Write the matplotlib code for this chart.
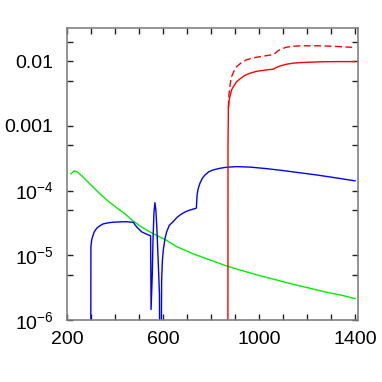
import matplotlib
matplotlib.use('Agg')
import matplotlib.pyplot as plt
import matplotlib.ticker as mtick

plt.rcParams['font.family'] = ['Liberation Sans', 'DejaVu Sans']
plt.rcParams['mathtext.fontset'] = 'custom'
plt.rcParams['mathtext.rm'] = 'Liberation Sans'
plt.rcParams['mathtext.it'] = 'Liberation Sans:italic'

# green curve
green_x = [214.6, 228, 242.6, 263.4, 298, 332.7, 367.8, 402.4, 437, 472, 506.8, 541.4, 576.5,
           611, 656, 725, 795, 864.5, 934, 1003, 1073, 1142, 1212, 1282, 1351, 1400]
green_y = [1.81e-4, 2.01e-4, 1.92e-4, 1.64e-4, 1.22e-4, 9.1e-5, 6.98e-5, 5.52e-5, 4.46e-5,
           3.43e-5, 2.77e-5, 2.32e-5, 1.99e-5, 1.72e-5, 1.36e-5, 1.05e-5, 8.45e-6, 6.83e-6,
           5.72e-6, 4.84e-6, 4.15e-6, 3.56e-6, 3.09e-6, 2.68e-6, 2.38e-6, 2.14e-6]

# blue curve
blue_x = [296.8, 298, 301, 305, 312, 322, 335, 349, 370, 391, 420, 447, 476, 482, 495, 510,
          530, 547, 549, 554, 557, 561, 565, 569, 573.5, 579, 584, 588, 593, 596, 600, 607,
          614, 625, 641, 656, 670, 690, 711, 736, 738, 741, 745, 753, 763, 774, 790, 808,
          835, 864, 906, 962, 1030, 1101, 1170, 1240, 1320, 1400]
blue_y = [1e-9, 1.36e-5, 1.7e-5, 1.94e-5, 2.3e-5, 2.61e-5, 2.85e-5, 3.05e-5, 3.17e-5, 3.24e-5,
          3.28e-5, 3.3e-5, 3.22e-5, 2.94e-5, 2.6e-5, 2.3e-5, 2.12e-5, 2.0e-5, 1.45e-6, 5e-6,
          1.7e-5, 4.5e-5, 6.5e-5, 5.0e-5, 2.5e-5, 7.6e-6, 2.5e-6, 1e-9, 4e-6, 8e-6, 1.2e-5,
          1.8e-5, 2.3e-5, 2.9e-5, 3.3e-5, 3.8e-5, 4.2e-5, 4.65e-5, 5.0e-5, 5.3e-5, 5.4e-5,
          8.5e-5, 1.05e-4, 1.3e-4, 1.55e-4, 1.74e-4, 1.95e-4, 2.08e-4, 2.2e-4, 2.29e-4,
          2.34e-4, 2.3e-4, 2.18e-4, 2.03e-4, 1.88e-4, 1.74e-4, 1.57e-4, 1.41e-4]

# red solid curve
red_x = [869, 870, 871.5, 875, 878, 885, 892, 906, 920, 940, 962, 990, 1031, 1059, 1070,
         1087, 1115, 1143, 1180, 1212, 1260, 1309, 1397]
red_y = [1e-9, 5e-4, 1.9e-3, 2.5e-3, 2.8e-3, 3.6e-3, 4.0e-3, 4.8e-3, 5.3e-3, 6.0e-3, 6.5e-3,
         6.95e-3, 7.3e-3, 7.5e-3, 7.9e-3, 8.4e-3, 8.95e-3, 9.3e-3, 9.5e-3, 9.6e-3, 9.75e-3,
         9.8e-3, 9.8e-3]

# red dashed curve
red2_x = [871.5, 874, 876, 880, 885, 895, 906, 925, 948, 975, 1004, 1030, 1059, 1068, 1080,
          1095, 1115, 1140, 1171, 1250, 1310, 1387]
red2_y = [1.9e-3, 3.0e-3, 3.6e-3, 4.6e-3, 5.75e-3, 7.0e-3, 8.2e-3, 9.4e-3, 1.05e-2, 1.12e-2,
          1.17e-2, 1.21e-2, 1.26e-2, 1.33e-2, 1.45e-2, 1.55e-2, 1.64e-2, 1.69e-2, 1.72e-2,
          1.72e-2, 1.69e-2, 1.63e-2]

yticks = [1e-6, 1e-5, 1e-4, 1e-3, 1e-2]
ylabels = [r'$\mathregular{10^{-6}}$', r'$\mathregular{10^{-5}}$', r'$\mathregular{10^{-4}}$',
           '0.001', '0.01']
yminor = [5e-6, 5e-5, 5e-4, 5e-3, 2e-2]
xticks = [200, 600, 1000, 1400]

fig = plt.figure(figsize=(3.82, 3.82), dpi=100)
ax = fig.add_axes([0.1746, 0.1623, 0.7624, 0.7644])

ax.plot(green_x, green_y, color='#00ee00', lw=1.0)
ax.plot(blue_x, blue_y, color='#0000ff', lw=1.0)
ax.plot(red_x, red_y, color='#ff0000', lw=1.0)
ax.plot(red2_x, red2_y, color='#ff0000', lw=1.0, linestyle=(0, (5, 2.5)))

ax.set_yscale('log')
ax.set_xlim(197, 1412)
ax.set_ylim(1e-6, 0.0324)

ax.yaxis.set_major_locator(mtick.FixedLocator(yticks))
ax.yaxis.set_major_formatter(mtick.FixedFormatter(ylabels))
ax.yaxis.set_minor_locator(mtick.FixedLocator(yminor))
ax.yaxis.set_minor_formatter(mtick.NullFormatter())
ax.set_xticks(xticks)
ax.set_xticklabels([str(v) for v in xticks])
ax.xaxis.set_minor_locator(mtick.MultipleLocator(100))

ax.tick_params(which='both', direction='in', top=True, right=True, labelsize=14,
               width=1.0, color='#222222')
ax.tick_params(which='major', length=4.3)
ax.tick_params(which='minor', length=4.0)
ax.tick_params(axis='y', pad=9.5)
ax.tick_params(axis='x', pad=8)
for s in ax.spines.values():
    s.set_color('#808080')
    s.set_linewidth(1.2)

fig.savefig('out.png', dpi=100)
